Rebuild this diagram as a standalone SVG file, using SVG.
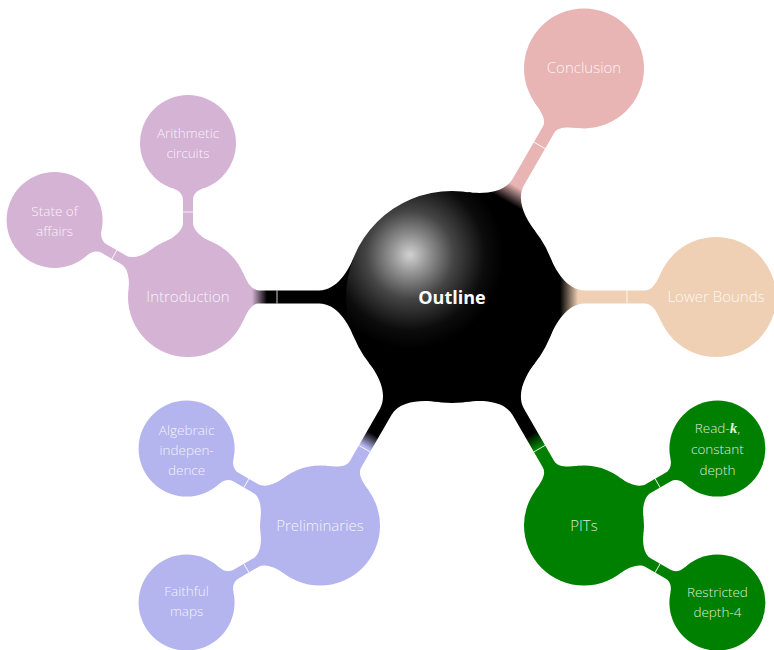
<svg xmlns="http://www.w3.org/2000/svg" width="774" height="650" viewBox="0 0 774 650">
<style>
.t1{font-family:"Open Sans","Liberation Sans",sans-serif;font-weight:300;font-size:15px;fill:#fff;fill-opacity:0.88;text-anchor:middle}
.t2{font-family:"Open Sans","Liberation Sans",sans-serif;font-weight:300;font-size:13.5px;fill:#fff;fill-opacity:0.88;text-anchor:middle}
.t0{font-family:"Open Sans","Liberation Sans",sans-serif;font-weight:bold;font-size:18px;fill:#fff;text-anchor:middle}
.seam{stroke:#fff;stroke-width:0.9;stroke-opacity:0.9}
.intro{fill:#d5b3d5}.concl{fill:#e8b4b4}.lower{fill:#efd0b4}.pits{fill:#008000}.prelim{fill:#b4b4ee}
</style>
<defs>
<path id="bar1" d="M98.3,-39.7 C103.5,-26.7 115,-6.5 133,-6.5 L193,-6.5 C201,-6.5 205.4,-16.3 209.6,-25.4 L209.6,25.4 C205.4,16.3 201,6.5 193,6.5 L133,6.5 C115,6.5 103.5,26.7 98.3,39.7 Z"/>
<path id="bar2" d="M55.6,-22.5 C58.6,-15.1 66,-5 74,-5 L97,-5 C102,-5 106.2,-8.2 108.4,-14.8 L108.4,14.8 C106.2,8.2 102,5 97,5 L74,5 C66,5 58.6,15.1 55.6,22.5 Z"/>
<line id="seam1" class="seam" x1="175" y1="-6.5" x2="175" y2="6.5"/>
<line id="seam2" class="seam" x1="85" y1="-5" x2="85" y2="5"/>
<linearGradient id="gIntro" gradientUnits="userSpaceOnUse" x1="185" y1="0" x2="200" y2="0"><stop offset="0" stop-color="#000"/><stop offset="1" stop-color="#d5b3d5"/></linearGradient>
<linearGradient id="gConcl" gradientUnits="userSpaceOnUse" x1="110" y1="0" x2="128" y2="0"><stop offset="0" stop-color="#000"/><stop offset="1" stop-color="#e8b4b4"/></linearGradient>
<linearGradient id="gLower" gradientUnits="userSpaceOnUse" x1="108" y1="0" x2="126" y2="0"><stop offset="0" stop-color="#000"/><stop offset="1" stop-color="#efd0b4"/></linearGradient>
<linearGradient id="gPits" gradientUnits="userSpaceOnUse" x1="158" y1="0" x2="173" y2="0"><stop offset="0" stop-color="#000"/><stop offset="1" stop-color="#008000"/></linearGradient>
<linearGradient id="gPrelim" gradientUnits="userSpaceOnUse" x1="158" y1="0" x2="173" y2="0"><stop offset="0" stop-color="#000"/><stop offset="1" stop-color="#b4b4ee"/></linearGradient>
<radialGradient id="ball" gradientUnits="userSpaceOnUse" cx="410" cy="255" r="125">
<stop offset="0" stop-color="#d2d2d2"/><stop offset="0.15" stop-color="#939393"/><stop offset="0.35" stop-color="#454545"/><stop offset="0.6" stop-color="#0c0c0c"/><stop offset="0.75" stop-color="#000"/><stop offset="1" stop-color="#000"/>
</radialGradient>
</defs>

<g id="connectors">
<g transform="translate(452,297) rotate(180)"><use href="#bar1" fill="url(#gIntro)"/><use href="#seam1"/></g>
<g transform="translate(452,297) rotate(-60)"><use href="#bar1" fill="url(#gConcl)"/><use href="#seam1"/></g>
<g transform="translate(452,297)"><use href="#bar1" fill="url(#gLower)"/><use href="#seam1"/></g>
<g transform="translate(452,297) rotate(60)"><use href="#bar1" fill="url(#gPits)"/><use href="#seam1"/></g>
<g transform="translate(452,297) rotate(120)"><use href="#bar1" fill="url(#gPrelim)"/><use href="#seam1"/></g>
<g transform="translate(188,297) rotate(-90)"><use href="#bar2" class="intro"/><use href="#seam2"/></g>
<g transform="translate(188,297) rotate(-150)"><use href="#bar2" class="intro"/><use href="#seam2"/></g>
<g transform="translate(320,525.6) rotate(-150)"><use href="#bar2" class="prelim"/><use href="#seam2"/></g>
<g transform="translate(320,525.6) rotate(150)"><use href="#bar2" class="prelim"/><use href="#seam2"/></g>
<g transform="translate(584,525.6) rotate(-30)"><use href="#bar2" class="pits"/><use href="#seam2"/></g>
<g transform="translate(584,525.6) rotate(30)"><use href="#bar2" class="pits"/><use href="#seam2"/></g>
</g>

<g id="outline"><circle cx="452" cy="297" r="106" fill="url(#ball)"/><text class="t0" x="452" y="303.5">Outline</text></g>

<g id="introduction"><circle class="intro" cx="188" cy="297" r="60"/><text class="t1" x="188" y="302">Introduction</text></g>
<g id="arithmetic"><circle class="intro" cx="188" cy="143" r="48"/><text class="t2" x="188" y="138">Arithmetic</text><text class="t2" x="188" y="158">circuits</text></g>
<g id="state"><circle class="intro" cx="54.6" cy="220" r="48"/><text class="t2" x="54.6" y="216">State of</text><text class="t2" x="54.6" y="236">affairs</text></g>

<g id="conclusion"><circle class="concl" cx="584" cy="68.4" r="60"/><text class="t1" x="584" y="73.4">Conclusion</text></g>
<g id="lowerbounds"><circle class="lower" cx="716" cy="297" r="60"/><text class="t1" x="716" y="302">Lower Bounds</text></g>

<g id="pits"><circle class="pits" cx="584" cy="525.6" r="60"/><text class="t1" x="584" y="530.6">PITs</text></g>
<g id="readk"><circle class="pits" cx="717.4" cy="448.6" r="48"/><text class="t2" x="717.4" y="433">Read-<tspan font-family="'Liberation Serif',serif" font-style="italic" font-weight="bold" font-size="15px">k</tspan>,</text><text class="t2" x="717.4" y="454">constant</text><text class="t2" x="717.4" y="475">depth</text></g>
<g id="restricted"><circle class="pits" cx="717.4" cy="602.6" r="48"/><text class="t2" x="717.4" y="597">Restricted</text><text class="t2" x="717.4" y="617">depth-4</text></g>

<g id="preliminaries"><circle class="prelim" cx="320" cy="525.6" r="60"/><text class="t1" x="320" y="530.6">Preliminaries</text></g>
<g id="algebraic"><circle class="prelim" cx="186.6" cy="448.6" r="48"/><text class="t2" x="186.6" y="435">Algebraic</text><text class="t2" x="186.6" y="455">indepen-</text><text class="t2" x="186.6" y="475">dence</text></g>
<g id="faithful"><circle class="prelim" cx="186.6" cy="602.6" r="48"/><text class="t2" x="186.6" y="596">Faithful</text><text class="t2" x="186.6" y="616">maps</text></g>
</svg>
